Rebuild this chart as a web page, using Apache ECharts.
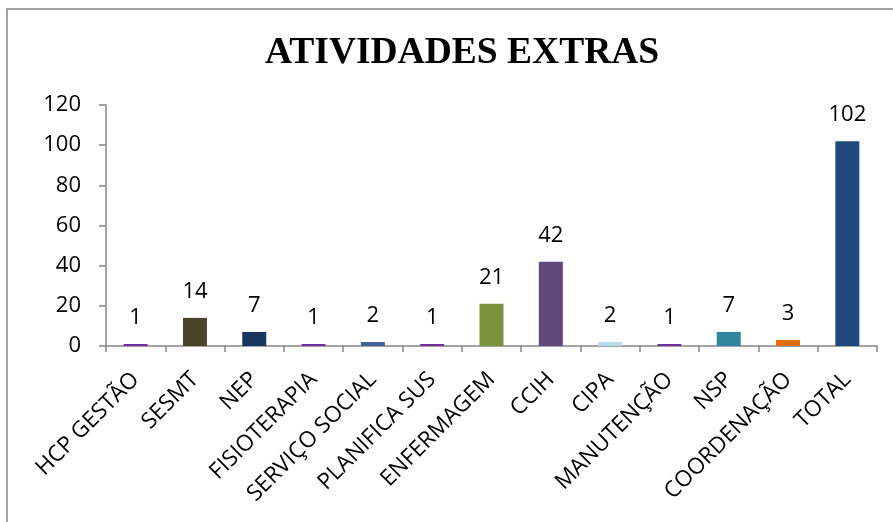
<!DOCTYPE html>
<html><head><meta charset="utf-8">
<script src="https://cdn.jsdelivr.net/npm/echarts@6/dist/echarts.min.js"></script>
<style>html,body{margin:0;padding:0;background:#fff}#c{width:893px;height:522px}</style>
</head><body><div id="c"></div>
<script>
const categories = ['HCP GESTÃO','SESMT','NEP','FISIOTERAPIA','SERVIÇO SOCIAL','PLANIFICA SUS','ENFERMAGEM','CCIH','CIPA','MANUTENÇÃO','NSP','COORDENAÇÃO','TOTAL'];
const values = [1,14,7,1,2,1,21,42,2,1,7,3,102];
const barColors = ['#7030A0','#4A452A','#17375E','#7030A0','#3E6497','#7030A0','#77933C','#604A7B','#B7DEE8','#7030A0','#31859C','#E46C0A','#1F497D'];
const yTicks = [0,20,40,60,80,100,120];
const title = 'ATIVIDADES EXTRAS';

const chart = echarts.init(document.getElementById('c'));
chart.setOption({
  animation:false,
  backgroundColor:'#fff',
  title:{text:title,left:260,top:29,textStyle:{fontFamily:'Liberation Serif',fontWeight:'bold',fontSize:37.5,color:'#000'}},
  graphic:[{type:'rect',shape:{x:7,y:9,width:900,height:530},style:{fill:'none',stroke:'#888',lineWidth:1.5},silent:true,z:-1}],
  grid:{left:106,right:16,top:105,bottom:176,containLabel:false},
  xAxis:{type:'category',data:categories,
    axisLine:{lineStyle:{color:'#868686',width:1.5}},
    axisTick:{show:true,alignWithLabel:false,length:6,lineStyle:{color:'#868686',width:1.5}},
    axisLabel:{rotate:45,interval:0,fontFamily:'Open Sans',fontSize:22.5,color:'#000',margin:30}},
  yAxis:{type:'value',min:yTicks[0],max:yTicks[yTicks.length-1],interval:20,
    axisLine:{show:true,lineStyle:{color:'#868686',width:1.5}},
    axisTick:{show:true,length:7,lineStyle:{color:'#868686',width:1.5}},
    splitLine:{show:false},
    axisLabel:{fontFamily:'Open Sans',fontSize:22,color:'#000',margin:25}},
  series:[{type:'bar',barWidth:24,
    data:values.map((v,i)=>({value:v,itemStyle:{color:barColors[i]}})),
    label:{show:true,position:'top',distance:15,fontFamily:'Open Sans',fontSize:22,color:'#000'}}]
});
</script></body></html>
